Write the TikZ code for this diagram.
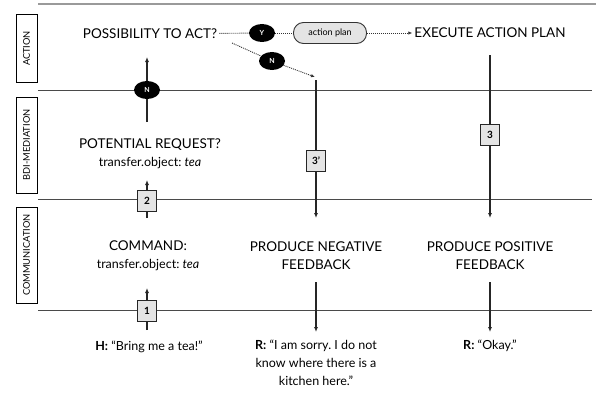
\documentclass[tikz,border=0pt]{standalone}
\usepackage{fontspec}
\setmainfont{Lato}
\usetikzlibrary{arrows.meta,positioning,calc,shapes.geometric}
\definecolor{lanegray}{HTML}{4A4A4A}
\definecolor{topgray}{HTML}{9A9A9A}
\definecolor{boxfill}{HTML}{E4E4E4}
\newcommand{\argline}[1]{{\fontsize{12.5}{14}\selectfont #1}}
\frenchspacing

\begin{document}
\begin{tikzpicture}[x=1pt,y=-1pt,font=\fontsize{13.5}{18}\selectfont,
  lane/.style={draw=lanegray,line width=1pt},
  lanetag/.style={draw=black,line width=1pt,rotate=90,font=\fontsize{9.3}{10}\selectfont,
    minimum height=21pt,inner sep=0pt},
  stage/.style={align=center,inner sep=2pt},
  utter/.style={align=center,inner sep=2pt,font=\fontsize{12.5}{18}\selectfont},
  flow/.style={draw=black!85,line width=1.3pt,-{Latex[length=5pt,width=4pt]}},
  cue/.style={draw=black!80,line width=0.9pt,dash pattern=on 1pt off 1pt},
  yn/.style={ellipse,fill=black,text=white,font=\fontsize{7}{7}\selectfont\bfseries,
    minimum width=26pt,minimum height=18pt,inner sep=0pt},
  stepbox/.style={draw=black!85,fill=boxfill,line width=0.9pt,minimum width=19pt,
    minimum height=21pt,inner sep=0pt,font=\fontsize{10}{10}\selectfont\bfseries}]
\useasboundingbox (0,0) rectangle (596,396);

% lanes and their tags
\draw[draw=topgray,line width=2pt] (38,4) -- (596,4);
\foreach \y in {90,199,310} \draw[lane] (38,\y) -- (592,\y);
\node[lanetag,minimum width=67pt] (tagact) at (26.5,48.5) {ACTION};
\node[lanetag,minimum width=96pt] (tagbdi) at (26.5,145) {BDI-MEDIATION};
\node[lanetag,minimum width=96pt] (tagcom) at (26.5,255) {COMMUNICATION};

% stages
\node[stage] (act) at (150,34) {POSSIBILITY TO ACT?};
\node[stage] (req) at (150,154) {POTENTIAL REQUEST?\\\argline{transfer.object: \textit{tea}}};
\node[stage] (cmd) at (148,256) {COMMAND:\\\argline{transfer.object: \textit{tea}}};
\node[stage] (negfb) at (316,256) {PRODUCE NEGATIVE\\FEEDBACK};
\node[stage] (posfb) at (490,256) {PRODUCE POSITIVE\\FEEDBACK};
\node[stage] (exe) at (490,33) {EXECUTE ACTION PLAN};

% what is said
\node[utter] (hum) at (149,347) {\textbf{H:} ``Bring me a tea!''};
\node[utter,anchor=north] (rneg) at (316,338) {\textbf{R:} ``I am sorry. I do not\\know where there is a\\kitchen here.''};
\node[utter,anchor=north] (rpos) at (490,338) {\textbf{R:} ``Okay.''};

% decisions
\node[yn] (yes) at (262,33) {Y};
\node[yn] (no) at (272,61) {N};
\node[yn] (n1) at (147,90) {N};
\node[draw=black!80,fill=boxfill,rounded corners=10pt,minimum width=73pt,minimum height=21pt,
      line width=0.9pt,font=\fontsize{9}{9}\selectfont] (ap) at (330,33) {action plan};

% numbered steps
\node[stepbox] (s1) at (147,311) {1};
\node[stepbox] (s2) at (147,201) {2};
\node[stepbox] (s3n) at (316,161) {3'};
\node[stepbox] (s3) at (490,135) {3};

\coordinate (s1in) at (147,330);  \coordinate (s1out) at (147,288);
\coordinate (s2in) at (147,218);  \coordinate (s2out) at (147,180);
\coordinate (n1in) at (147,122);  \coordinate (n1out) at (147,57);
\coordinate (nofrom) at (232,43); \coordinate (noto) at (315,77);
\coordinate (negtop) at (316,80); \coordinate (negin) at (316,218);
\coordinate (postop) at (490,55); \coordinate (posin) at (490,218);

\draw[flow] (s1in) -- (s1) -- (s1out);
\draw[flow] (s2in) -- (s2) -- (s2out);
\draw[flow] (n1in) -- (n1) -- (n1out);
\draw[cue] (act) -- (yes);
\draw[cue] (yes) -- (ap);
\draw[cue,-{Latex[length=4pt,width=3.5pt]}] (ap) -- (exe);
\draw[cue] (nofrom) -- (no);
\draw[cue,-{Latex[length=4pt,width=3.5pt]}] (no) -- (noto);
\draw[flow] (negtop) -- (s3n) -- (negin);
\draw[flow] (postop) -- (s3) -- (posin);
\draw[flow,shorten <=10pt,shorten >=6pt] (negfb) -- (rneg);
\draw[flow,shorten <=10pt,shorten >=6pt] (posfb) -- (rpos);
\end{tikzpicture}
\end{document}
